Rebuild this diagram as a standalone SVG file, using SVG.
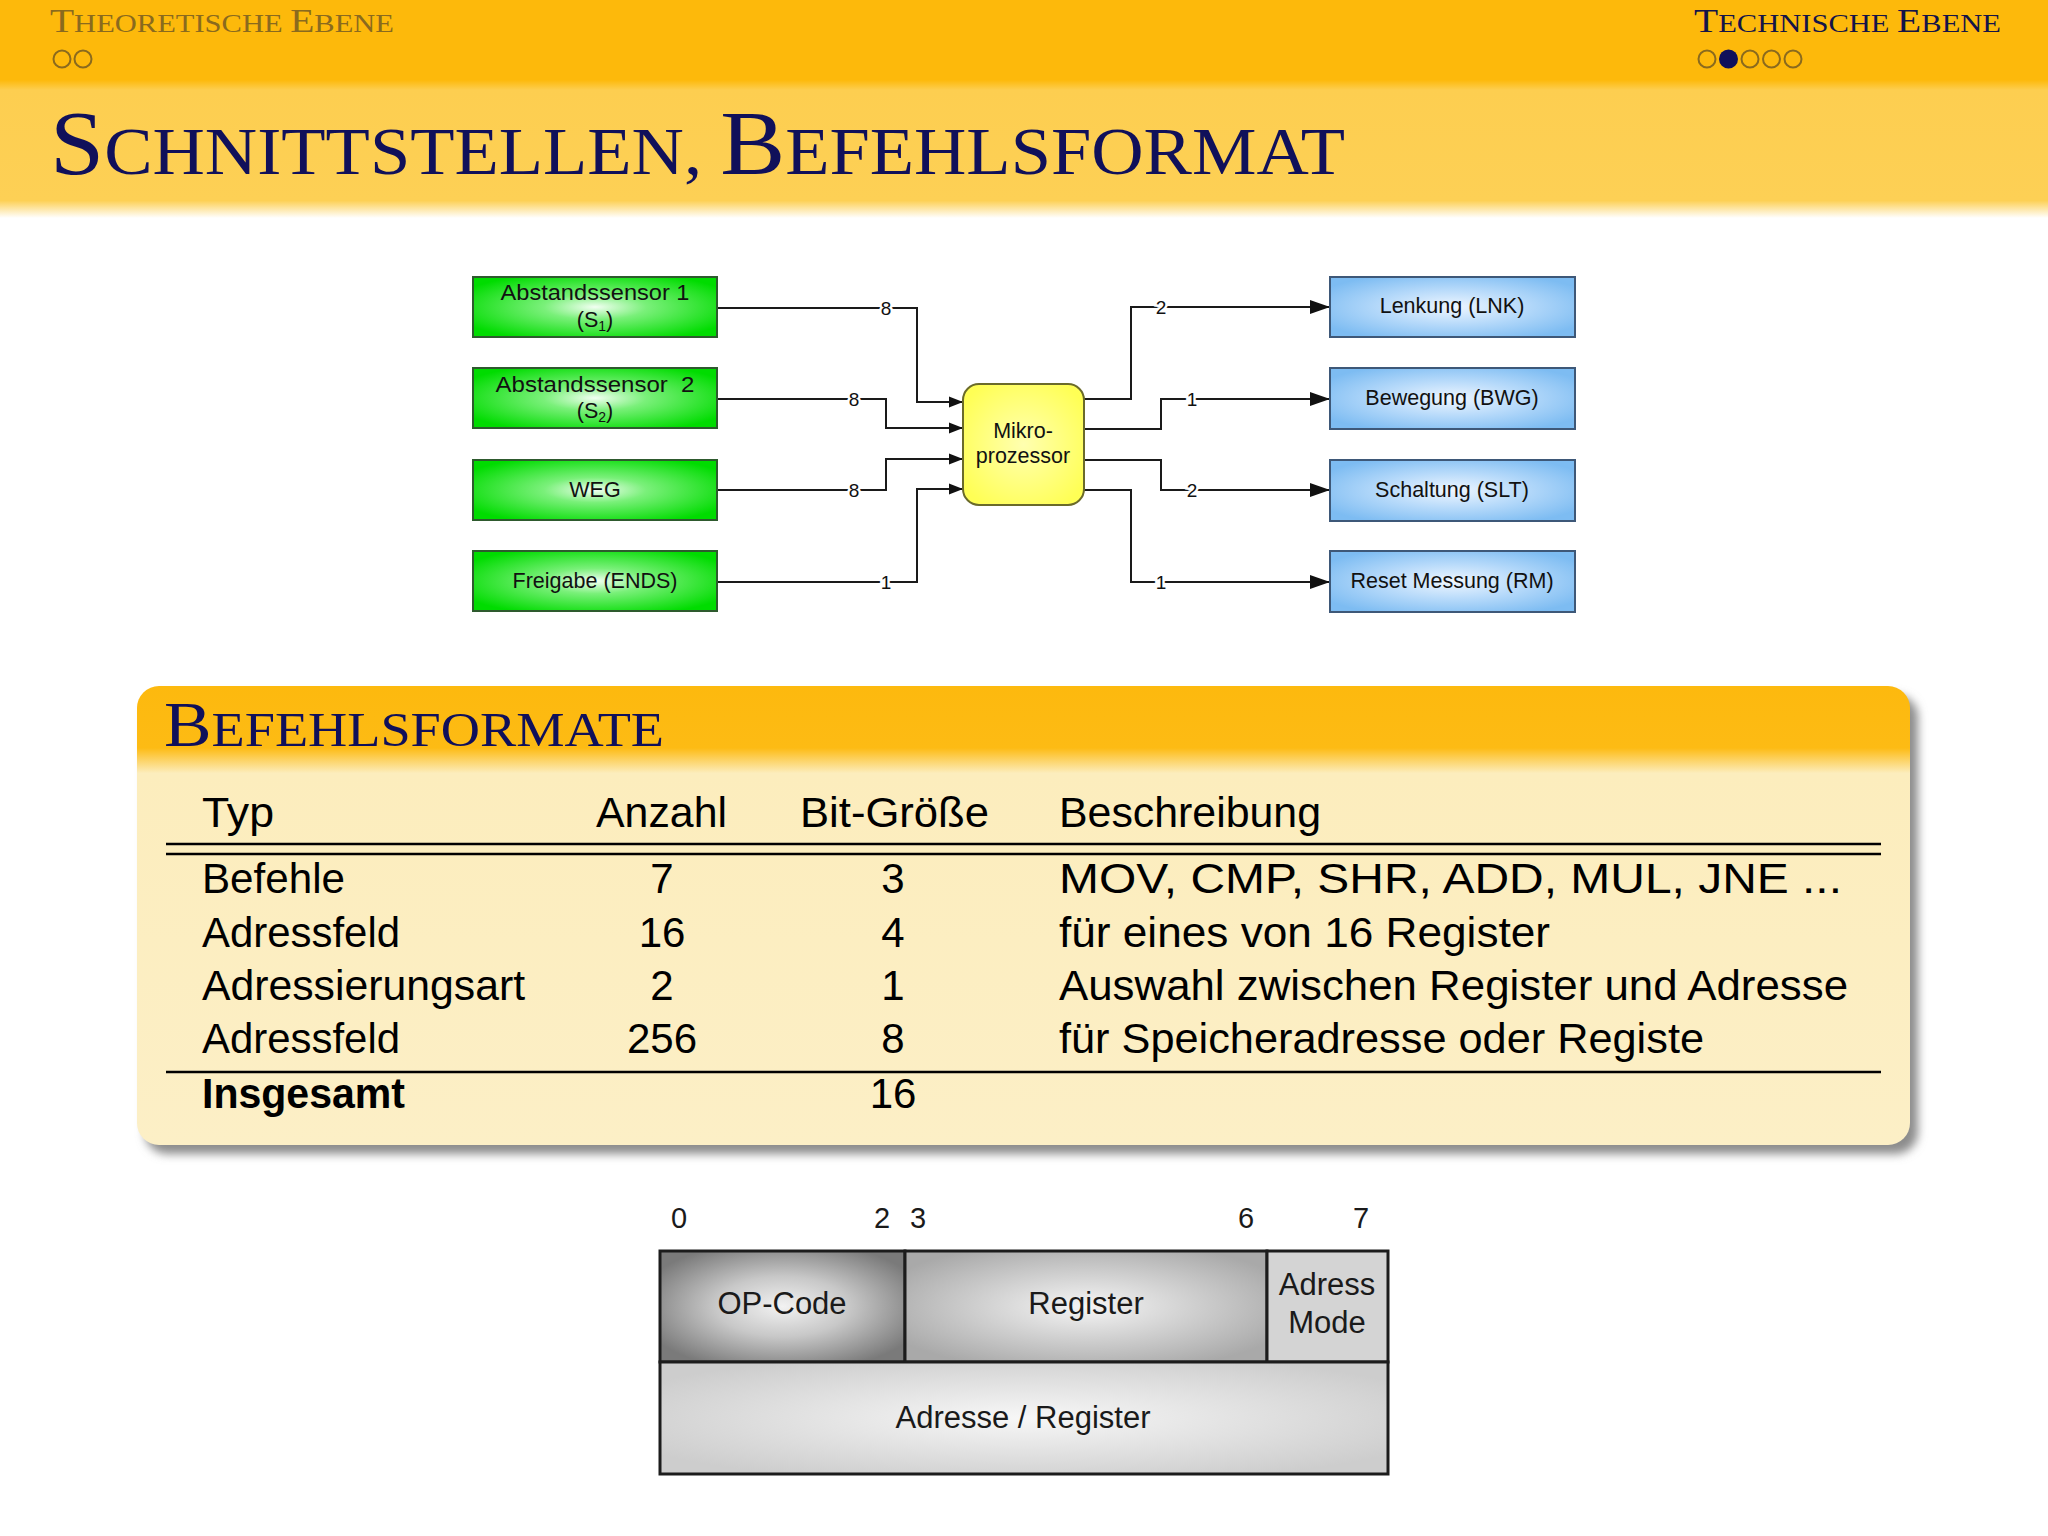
<svg xmlns="http://www.w3.org/2000/svg" width="2048" height="1536" viewBox="0 0 2048 1536">
<defs>
<style>
.hdr{font-family:"Liberation Serif","DejaVu Serif",serif}
.bx{font-family:"Liberation Sans",Arial,sans-serif;font-size:21.5px;fill:#111;text-anchor:middle}
.lbl{font-family:"Liberation Sans",Arial,sans-serif;font-size:19px;fill:#111;text-anchor:middle;paint-order:stroke;stroke:#fff;stroke-width:5px}
.wire{fill:none;stroke:#1a1a1a;stroke-width:2}
.tbl{font-family:"Liberation Sans",Arial,sans-serif;font-size:42px;fill:#000}
.num{text-anchor:middle}
.rule{stroke:#000;stroke-width:2.5}
.bit{font-family:"Liberation Sans",Arial,sans-serif;font-size:31px;fill:#1a1a1a;text-anchor:middle}
.cell{stroke:#1c1c1c;stroke-width:3}
.gbox{fill:url(#green);stroke:#2e5a2e;stroke-width:2}
.bbox{fill:url(#blue);stroke:#3e5878;stroke-width:2}
</style>
<linearGradient id="band" gradientUnits="userSpaceOnUse" x1="0" y1="0" x2="0" y2="218">
<stop offset="0" stop-color="#FDB90B"/>
<stop offset="0.367" stop-color="#FDB90B"/>
<stop offset="0.413" stop-color="#FDCE50"/>
<stop offset="0.92" stop-color="#FDD055"/>
<stop offset="1" stop-color="#FFFFFF"/>
</linearGradient>
<linearGradient id="blockg" gradientUnits="userSpaceOnUse" x1="0" y1="686" x2="0" y2="1145">
<stop offset="0" stop-color="#FDB90E"/>
<stop offset="0.135" stop-color="#FDBB14"/>
<stop offset="0.19" stop-color="#FCEDBD"/>
<stop offset="1" stop-color="#FCEFC6"/>
</linearGradient>
<radialGradient id="green" cx="0.5" cy="0.5" r="0.6">
<stop offset="0" stop-color="#f2fff2"/>
<stop offset="0.35" stop-color="#7af07a"/>
<stop offset="1" stop-color="#00dc00"/>
</radialGradient>
<radialGradient id="blue" cx="0.5" cy="0.5" r="0.6">
<stop offset="0" stop-color="#eef6ff"/>
<stop offset="0.5" stop-color="#b5d9fa"/>
<stop offset="1" stop-color="#7dbcf2"/>
</radialGradient>
<radialGradient id="yellow" cx="0.5" cy="0.5" r="0.6">
<stop offset="0" stop-color="#ffffb0"/>
<stop offset="1" stop-color="#ffff55"/>
</radialGradient>
<radialGradient id="gDark" cx="0.5" cy="0.5" r="0.6">
<stop offset="0" stop-color="#f2f2f2"/>
<stop offset="0.45" stop-color="#c8c8c8"/>
<stop offset="1" stop-color="#7a7a7a"/>
</radialGradient>
<radialGradient id="gMid" cx="0.5" cy="0.5" r="0.6">
<stop offset="0" stop-color="#f5f5f5"/>
<stop offset="1" stop-color="#a9a9a9"/>
</radialGradient>
<radialGradient id="gLight" cx="0.5" cy="0.5" r="0.6">
<stop offset="0" stop-color="#f7f7f7"/>
<stop offset="1" stop-color="#cdcdcd"/>
</radialGradient>
<filter id="blur" x="-5%" y="-5%" width="110%" height="115%">
<feGaussianBlur stdDeviation="5"/>
</filter>
<marker id="arrL" markerUnits="userSpaceOnUse" markerWidth="14" markerHeight="12" refX="14" refY="6" orient="auto">
<path d="M0,0.5 L14,6 L0,11.5 z" fill="#111"/>
</marker>
<marker id="arrR" markerUnits="userSpaceOnUse" markerWidth="20" markerHeight="14" refX="20" refY="7" orient="auto">
<path d="M0,0 L20,7 L0,14 z" fill="#111"/>
</marker>
</defs>

<rect x="0" y="0" width="2048" height="1536" fill="#ffffff"/>

<!-- Header -->
<g id="header">
<rect x="0" y="0" width="2048" height="218" fill="url(#band)"/>
<text class="hdr" x="50" y="32" fill="#8a6a1e" textLength="344" lengthAdjust="spacingAndGlyphs"><tspan font-size="33">T</tspan><tspan font-size="25.5">HEORETISCHE </tspan><tspan font-size="33">E</tspan><tspan font-size="25.5">BENE</tspan></text>
<circle cx="62" cy="59" r="8.5" fill="none" stroke="#8a6a1e" stroke-width="2"/>
<circle cx="83" cy="59" r="8.5" fill="none" stroke="#8a6a1e" stroke-width="2"/>
<text class="hdr" x="1694" y="32" fill="#141448" textLength="307" lengthAdjust="spacingAndGlyphs"><tspan font-size="33">T</tspan><tspan font-size="25.5">ECHNISCHE </tspan><tspan font-size="33">E</tspan><tspan font-size="25.5">BENE</tspan></text>
<circle cx="1707" cy="59" r="8.5" fill="none" stroke="#8a6a1e" stroke-width="2"/>
<circle cx="1728.5" cy="59" r="9.5" fill="#10105a"/>
<circle cx="1750" cy="59" r="8.5" fill="none" stroke="#8a6a1e" stroke-width="2"/>
<circle cx="1771.5" cy="59" r="8.5" fill="none" stroke="#8a6a1e" stroke-width="2"/>
<circle cx="1793" cy="59" r="8.5" fill="none" stroke="#8a6a1e" stroke-width="2"/>
<text class="hdr" x="50" y="174" fill="#10105a" textLength="1295" lengthAdjust="spacingAndGlyphs"><tspan font-size="90">S</tspan><tspan font-size="67">CHNITTSTELLEN, </tspan><tspan font-size="90">B</tspan><tspan font-size="67">EFEHLSFORMAT</tspan></text>
</g>

<!-- Block diagram connectors -->
<g id="connectors">
<polyline class="wire" points="717,308 917,308 917,402 963,402" marker-end="url(#arrL)"/>
<polyline class="wire" points="717,399 886,399 886,428 963,428" marker-end="url(#arrL)"/>
<polyline class="wire" points="717,490 886,490 886,459 963,459" marker-end="url(#arrL)"/>
<polyline class="wire" points="717,582 917,582 917,489 963,489" marker-end="url(#arrL)"/>
<polyline class="wire" points="1084,399 1131,399 1131,307 1330,307" marker-end="url(#arrR)"/>
<polyline class="wire" points="1084,429 1161,429 1161,399 1330,399" marker-end="url(#arrR)"/>
<polyline class="wire" points="1084,460 1161,460 1161,490 1330,490" marker-end="url(#arrR)"/>
<polyline class="wire" points="1084,490 1131,490 1131,582 1330,582" marker-end="url(#arrR)"/>
<text class="lbl" x="886" y="315">8</text>
<text class="lbl" x="854" y="406">8</text>
<text class="lbl" x="854" y="497">8</text>
<text class="lbl" x="886" y="589">1</text>
<text class="lbl" x="1161" y="314">2</text>
<text class="lbl" x="1192" y="406">1</text>
<text class="lbl" x="1192" y="497">2</text>
<text class="lbl" x="1161" y="589">1</text>
</g>

<g id="s1">
<rect class="gbox" x="473" y="277" width="244" height="60"/>
<text class="bx" x="595" y="300" textLength="189" lengthAdjust="spacingAndGlyphs">Abstandssensor 1</text>
<text class="bx" x="595" y="327">(S<tspan font-size="14" dy="4">1</tspan><tspan dy="-4">)</tspan></text>
</g>
<g id="s2">
<rect class="gbox" x="473" y="368" width="244" height="60"/>
<text class="bx" x="595" y="392" xml:space="preserve" textLength="199" lengthAdjust="spacingAndGlyphs">Abstandssensor  2</text>
<text class="bx" x="595" y="418">(S<tspan font-size="14" dy="4">2</tspan><tspan dy="-4">)</tspan></text>
</g>
<g id="weg">
<rect class="gbox" x="473" y="460" width="244" height="60"/>
<text class="bx" x="595" y="497">WEG</text>
</g>
<g id="ends">
<rect class="gbox" x="473" y="551" width="244" height="60"/>
<text class="bx" x="595" y="588">Freigabe (ENDS)</text>
</g>
<g id="mikro">
<rect x="963" y="384" width="121" height="121" rx="16" fill="url(#yellow)" stroke="#6b6b2a" stroke-width="2"/>
<text class="bx" x="1023" y="438">Mikro-</text>
<text class="bx" x="1023" y="463">prozessor</text>
</g>
<g id="lnk">
<rect class="bbox" x="1330" y="277" width="245" height="60"/>
<text class="bx" x="1452" y="313">Lenkung (LNK)</text>
</g>
<g id="bwg">
<rect class="bbox" x="1330" y="368" width="245" height="61"/>
<text class="bx" x="1452" y="405">Bewegung (BWG)</text>
</g>
<g id="slt">
<rect class="bbox" x="1330" y="460" width="245" height="61"/>
<text class="bx" x="1452" y="497">Schaltung (SLT)</text>
</g>
<g id="rm">
<rect class="bbox" x="1330" y="551" width="245" height="61"/>
<text class="bx" x="1452" y="588">Reset Messung (RM)</text>
</g>

<!-- Befehlsformate block -->
<g id="befehlsformate">
<rect x="145" y="695" width="1773" height="459" rx="22" fill="#8c8c8c" filter="url(#blur)"/>
<rect x="137" y="686" width="1773" height="459" rx="22" fill="url(#blockg)"/>
<text class="hdr" x="164" y="746" fill="#10105a" textLength="500" lengthAdjust="spacingAndGlyphs"><tspan font-size="63">B</tspan><tspan font-size="48">EFEHLSFORMATE</tspan></text>
<g class="tbl">
<text x="202" y="827" textLength="72" lengthAdjust="spacingAndGlyphs">Typ</text>
<text x="596" y="827" textLength="131" lengthAdjust="spacingAndGlyphs">Anzahl</text>
<text x="800" y="827" textLength="189" lengthAdjust="spacingAndGlyphs">Bit-Größe</text>
<text x="1059" y="827" textLength="262" lengthAdjust="spacingAndGlyphs">Beschreibung</text>
<line class="rule" x1="166" y1="844" x2="1881" y2="844"/>
<line class="rule" x1="166" y1="854" x2="1881" y2="854"/>
<text x="202" y="893" textLength="143" lengthAdjust="spacingAndGlyphs">Befehle</text>
<text class="num" x="662" y="893">7</text>
<text class="num" x="893" y="893">3</text>
<text x="1059" y="893" textLength="783" lengthAdjust="spacingAndGlyphs">MOV, CMP, SHR, ADD, MUL, JNE ...</text>
<text x="202" y="947" textLength="198" lengthAdjust="spacingAndGlyphs">Adressfeld</text>
<text class="num" x="662" y="947">16</text>
<text class="num" x="893" y="947">4</text>
<text x="1059" y="947" textLength="491" lengthAdjust="spacingAndGlyphs">für eines von 16 Register</text>
<text x="202" y="1000" textLength="323" lengthAdjust="spacingAndGlyphs">Adressierungsart</text>
<text class="num" x="662" y="1000">2</text>
<text class="num" x="893" y="1000">1</text>
<text x="1059" y="1000" textLength="789" lengthAdjust="spacingAndGlyphs">Auswahl zwischen Register und Adresse</text>
<text x="202" y="1053" textLength="198" lengthAdjust="spacingAndGlyphs">Adressfeld</text>
<text class="num" x="662" y="1053">256</text>
<text class="num" x="893" y="1053">8</text>
<text x="1059" y="1053" textLength="645" lengthAdjust="spacingAndGlyphs">für Speicheradresse oder Registe</text>
<line class="rule" x1="166" y1="1072" x2="1881" y2="1072"/>
<text x="202" y="1108" font-weight="bold" textLength="203" lengthAdjust="spacingAndGlyphs">Insgesamt</text>
<text class="num" x="893" y="1108">16</text>
</g>
</g>

<!-- Bit format -->
<g id="bitformat">
<g class="bit">
<text x="679" y="1228" font-size="29">0</text>
<text x="882" y="1228" font-size="29">2</text>
<text x="918" y="1228" font-size="29">3</text>
<text x="1246" y="1228" font-size="29">6</text>
<text x="1361" y="1228" font-size="29">7</text>
</g>
<g id="opcode">
<rect class="cell" x="660" y="1251" width="245" height="111" fill="url(#gDark)"/>
<text class="bit" x="782" y="1314">OP-Code</text>
</g>
<g id="register">
<rect class="cell" x="905" y="1251" width="362" height="111" fill="url(#gMid)"/>
<text class="bit" x="1086" y="1314">Register</text>
</g>
<g id="adressmode">
<rect class="cell" x="1267" y="1251" width="121" height="111" fill="#d4d4d4"/>
<text class="bit" x="1327" y="1295">Adress</text>
<text class="bit" x="1327" y="1333">Mode</text>
</g>
<g id="adresse">
<rect class="cell" x="660" y="1362" width="728" height="112" fill="url(#gLight)"/>
<text class="bit" x="1023" y="1428">Adresse / Register</text>
</g>
</g>
</svg>
